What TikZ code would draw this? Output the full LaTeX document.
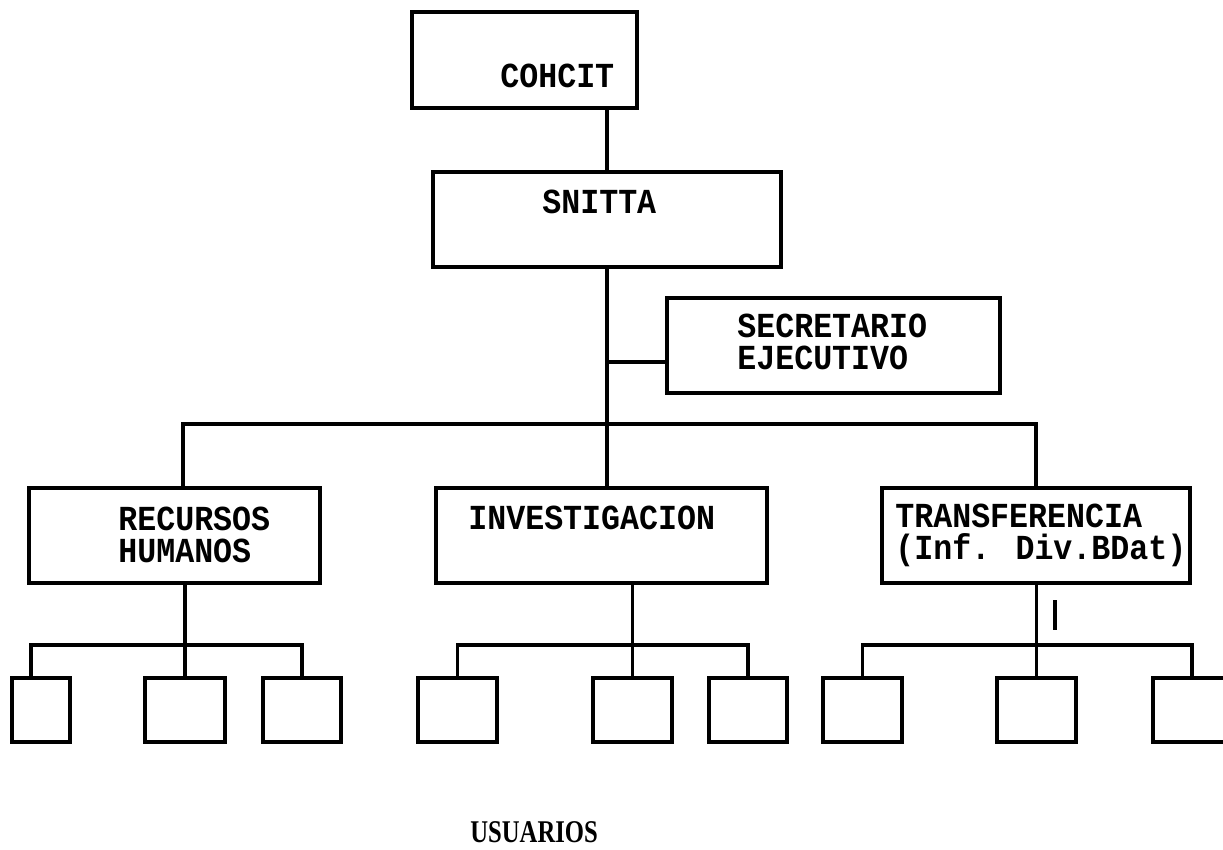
\documentclass[tikz,border=0pt]{standalone}
\usepackage{fontspec}
\usepackage{tikz}
\newfontfamily\boxfont{Liberation Mono}[FakeStretch=0.9]
\newfontfamily\foottfont{Liberation Serif}[FakeStretch=0.78]

\begin{document}
\begin{tikzpicture}[x=0.02cm, y=-0.02cm,
  box/.style={draw, line width=2.1pt, inner sep=0pt, minimum height=1.9cm},
  unit/.style={draw, line width=2.1pt, inner sep=0pt, minimum width=1.58cm, minimum height=1.28cm},
  link/.style={line width=2.1pt},
  lbl/.style={anchor=base west, inner sep=0pt, align=left,
    font=\boxfont\bfseries\fontsize{20pt}{18.2pt}\selectfont}]

\useasboundingbox (0,0) rectangle (1223,849);
\clip (0,0) rectangle (1223,849);

% Upper levels
\node[box, minimum width=4.5cm, minimum height=1.92cm] (cohcit) at (524.5,60) {};
\node[box, minimum width=6.96cm] (snitta) at (607,219.5) {};
\node[box, minimum width=6.66cm] (secre) at (833.5,345.5) {};

\node[box, minimum width=5.82cm] (rechum) at (174.5,535.5) {};
\node[box, minimum width=6.62cm] (invest) at (601.5,535.5) {};
\node[box, minimum width=6.16cm] (transf) at (1036,535.5) {};

% Texts inside the boxes (base = last line)
\node[lbl] (cohcit-t) at (500,87) {COHCIT};
\node[lbl] (snitta-t) at (542,213) {SNITTA};
\node[lbl] (secre-t) at (737,369) {SECRETARIO\\EJECUTIVO};
\node[lbl] (rechum-t) at (118,562) {RECURSOS\\HUMANOS};
\node[lbl] (invest-t) at (468,529) {INVESTIGACION};
\node[lbl] (transf-t) at (895,559) {TRANSFERENCIA\\(Inf. Div.BDat)};

% Users
\node[unit, minimum width=1.16cm] (r1) at (41,710) {};
\node[unit, minimum width=1.6cm] (r2) at (185,710) {};
\node[unit, minimum width=1.56cm] (r3) at (302,710) {};
\node[unit] (i1) at (457.5,710) {};
\node[unit] (i2) at (632.5,710) {};
\node[unit, minimum width=1.56cm] (i3) at (748,710) {};
\node[unit] (t1) at (862.5,710) {};
\node[unit] (t2) at (1036.5,710) {};
\node[unit, minimum width=1.56cm] (t3) at (1192,710) {};

\node[anchor=base west, inner sep=0pt, font=\foottfont\bfseries\fontsize{18pt}{20pt}\selectfont] (usuarios) at (470,842) {USUARIOS};

% Connections
\draw[link] (snitta.north) -- (snitta.north |- cohcit.south);
\draw[link] (snitta.south) -- (snitta.south |- invest.north);
\draw[link] ([yshift=-0.33cm]secre.west) -- ([yshift=-0.33cm]secre.west -| snitta.south);
\draw[link] ([xshift=0.17cm]rechum.north) -- ++(0,-62) -| (transf.north);

\draw[link] (rechum.south -| r2.north) -- (r2.north);
\draw[link] ([xshift=-0.2cm]r1.north) -- ++(0,-31) -| (r3.north);
\draw[link] (invest.south -| i2.north) -- (i2.north);
\draw[link] (i1.north) -- ++(0,-31) -| (i3.north);
\draw[link] (transf.south -| t2.north) -- (t2.north);
\draw[link] (t1.north) -- ++(0,-31) -| (t3.north);

\coordinate (mark) at (1055,600);
\draw[link] (mark) -- ++(0,30);

\end{tikzpicture}
\end{document}
